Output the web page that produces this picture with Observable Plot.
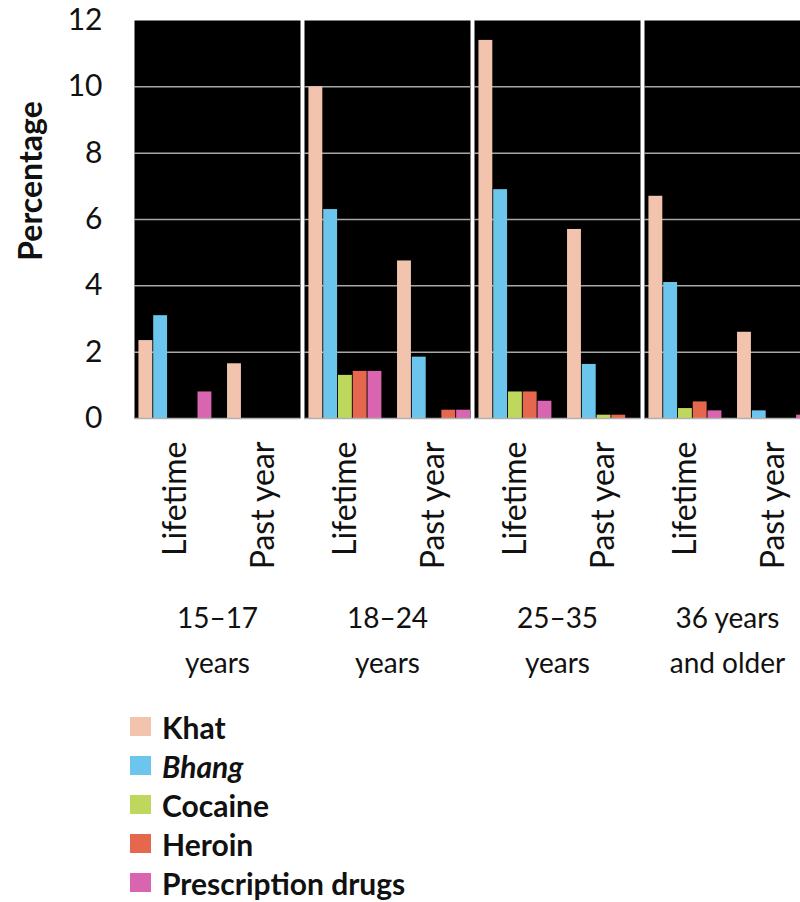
<!DOCTYPE html>
<html>
<head>
<meta charset="utf-8">
<script src="https://cdn.jsdelivr.net/npm/d3@7"></script>
<script src="https://cdn.jsdelivr.net/npm/@observablehq/plot@0.6"></script>
<style>
  html, body { margin: 0; padding: 0; background: #fff; overflow: hidden; width: 800px; height: 902px; }
  body { font-family: "Lato", sans-serif; color: #111; position: relative; }
  #chart { position: absolute; left: 0; top: 0; width: 800px; height: 700px; overflow: hidden; }
  #chart svg { max-width: none !important; }
  #ylabel { position: absolute; left: 30px; top: 181px; transform: translate(-50%, -50%) rotate(-90deg);
            font-weight: bold; font-size: 32px; white-space: nowrap; line-height: 1; }
  #legend { position: absolute; left: 130px; top: 707px; }
  .row { display: flex; align-items: center; height: 39px; font-weight: bold; font-size: 30px; line-height: 1; }
  .sw { width: 21px; height: 19px; margin-right: 11px; }
</style>
</head>
<body>
<div id="chart"></div>
<div id="ylabel">Percentage</div>
<div id="legend"></div>
<script>
// ---- data ----
const ageGroups = ["15–17 years", "18–24 years", "25–35 years", "36 years and older"];
const ageLabels = ["15–17\nyears", "18–24\nyears", "25–35\nyears", "36 years\nand older"];
const periods = ["Lifetime", "Past year"];
const drugs = ["Khat", "Bhang", "Cocaine", "Heroin", "Prescription drugs"];
const drugColors = ["#F2C4AE", "#6CC5EC", "#BED75D", "#E5684E", "#D964AF"];
// values ordered: [15–17 Lifetime, 15–17 Past year, 18–24 L, 18–24 P, 25–35 L, 25–35 P, 36+ L, 36+ P]
const khat         = [2.35, 1.65, 10.0, 4.75, 11.4, 5.7, 6.7, 2.6];
const bhang        = [3.1,  0,    6.3,  1.85, 6.9,  1.63, 4.1, 0.23];
const cocaine      = [0,    0,    1.3,  0,    0.8,  0.1,  0.3, 0];
const heroin       = [0,    0,    1.42, 0.25, 0.8,  0.1,  0.5, 0];
const prescription = [0.8,  0,    1.42, 0.25, 0.52, 0,    0.23, 0.1];
const yTicks = [0, 2, 4, 6, 8, 10, 12];

// ---- build table ----
const series = [khat, bhang, cocaine, heroin, prescription];
const data = [];
ageGroups.forEach((age, ai) => {
  periods.forEach((p, pi) => {
    drugs.forEach((drug, di) => {
      data.push({age, period: p, drug, key: p + "|" + drug, value: series[di][ai * 2 + pi]});
    });
  });
});
const xDomain = [...drugs.map(d => "Lifetime|" + d), "gap", ...drugs.map(d => "Past year|" + d)];
const xTicks = periods.map(p => p + "|" + drugs[2]);

const chart = Plot.plot({
  width: 812,
  height: 700,
  marginLeft: 132,
  marginRight: 0,
  marginTop: 20,
  marginBottom: 282,
  style: {fontFamily: "Lato, sans-serif", fontSize: "28px", background: "white", color: "#111"},
  fx: {domain: ageGroups, paddingInner: 0.022, paddingOuter: 0, label: null},
  x: {domain: xDomain, paddingInner: 0.06, paddingOuter: 0.15, align: 1, round: false, label: null},
  y: {domain: [0, 12], label: null},
  color: {domain: drugs, range: drugColors},
  marks: [
    Plot.frame({fill: "black"}),
    Plot.gridY({ticks: yTicks.filter(t => t > 0 && t < 12), stroke: "#a8a8a8", strokeOpacity: 1, strokeWidth: 1.5}),
    Plot.barY(data, {fx: "age", x: "key", y: "value", fill: "drug"}),
    Plot.ruleY([0], {stroke: "#b0b0b0", strokeWidth: 1.5}),
    Plot.axisY({ticks: yTicks, tickSize: 0, tickPadding: 32, label: null, fontSize: 30}),
    Plot.axisX({anchor: "bottom", ticks: xTicks, tickFormat: k => k.split("|")[0], tickRotate: -90,
                tickSize: 0, tickPadding: 23, fontSize: 32, label: null}),
    Plot.axisFx({anchor: "bottom", tickSize: 0, tickPadding: 178, fontSize: 28, lineHeight: 1.6,
                 tickFormat: a => ageLabels[ageGroups.indexOf(a)], label: null})
  ]
});
chart.style.maxWidth = "none";
document.getElementById("chart").appendChild(chart);

const legend = document.getElementById("legend");
drugs.forEach((d, i) => {
  const row = document.createElement("div");
  row.className = "row";
  const sw = document.createElement("span");
  sw.className = "sw";
  sw.style.background = drugColors[i];
  const label = document.createElement("span");
  label.textContent = d;
  if (d === "Bhang") label.style.fontStyle = "italic";
  row.appendChild(sw);
  row.appendChild(label);
  legend.appendChild(row);
});
</script>
</body>
</html>
